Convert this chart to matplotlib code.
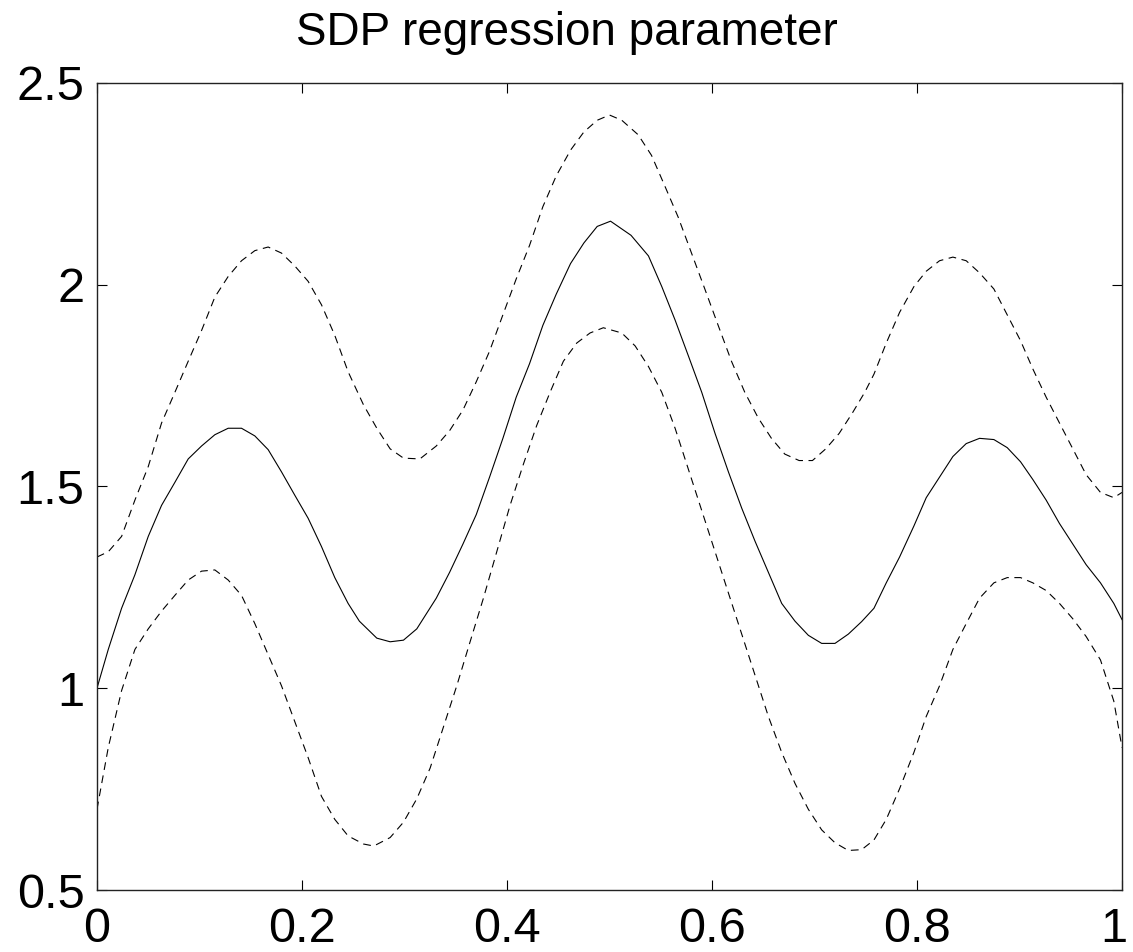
import matplotlib
matplotlib.use("Agg")
import matplotlib.pyplot as plt
import matplotlib.transforms as mtransforms

# Estimated SDP parameter (solid line)
est_x = [0.000, 0.011, 0.024, 0.037, 0.050, 0.063, 0.076, 0.089, 0.102, 0.115,
         0.128, 0.141, 0.154, 0.167, 0.180, 0.193, 0.206, 0.219, 0.232, 0.245,
         0.256, 0.273, 0.286, 0.299, 0.312, 0.331, 0.344, 0.357, 0.370, 0.383,
         0.396, 0.409, 0.422, 0.435, 0.448, 0.462, 0.475, 0.488, 0.501, 0.521,
         0.538, 0.551, 0.564, 0.577, 0.590, 0.603, 0.616, 0.629, 0.642, 0.655,
         0.668, 0.681, 0.694, 0.707, 0.720, 0.733, 0.746, 0.758, 0.770, 0.783,
         0.797, 0.809, 0.822, 0.835, 0.848, 0.861, 0.875, 0.888, 0.901, 0.913,
         0.926, 0.939, 0.952, 0.965, 0.979, 0.992, 1.000]
est_y = [1.000, 1.096, 1.198, 1.281, 1.376, 1.453, 1.510, 1.568, 1.600, 1.628,
         1.644, 1.644, 1.625, 1.591, 1.536, 1.478, 1.421, 1.351, 1.274, 1.210,
         1.166, 1.124, 1.115, 1.119, 1.147, 1.223, 1.287, 1.357, 1.430, 1.523,
         1.619, 1.721, 1.804, 1.899, 1.976, 2.052, 2.103, 2.144, 2.157, 2.122,
         2.071, 1.995, 1.912, 1.823, 1.733, 1.631, 1.536, 1.446, 1.364, 1.287,
         1.210, 1.166, 1.131, 1.111, 1.111, 1.134, 1.165, 1.198, 1.261, 1.325,
         1.402, 1.472, 1.523, 1.574, 1.606, 1.619, 1.616, 1.596, 1.561, 1.517,
         1.466, 1.408, 1.357, 1.306, 1.261, 1.210, 1.170]

# Upper confidence band (dashed)
up_x = [0.000, 0.011, 0.024, 0.037, 0.050, 0.063, 0.076, 0.089, 0.102, 0.115,
        0.128, 0.141, 0.154, 0.167, 0.180, 0.193, 0.206, 0.219, 0.232, 0.245,
        0.260, 0.273, 0.286, 0.299, 0.315, 0.331, 0.344, 0.357, 0.370, 0.383,
        0.396, 0.409, 0.422, 0.435, 0.448, 0.462, 0.475, 0.488, 0.500, 0.512,
        0.528, 0.541, 0.554, 0.567, 0.580, 0.593, 0.606, 0.619, 0.632, 0.645,
        0.658, 0.671, 0.685, 0.698, 0.711, 0.724, 0.737, 0.749, 0.758, 0.770,
        0.783, 0.797, 0.809, 0.822, 0.835, 0.848, 0.861, 0.875, 0.888, 0.901,
        0.913, 0.926, 0.939, 0.952, 0.965, 0.979, 0.992, 1.000]
up_y = [1.325, 1.338, 1.376, 1.466, 1.549, 1.657, 1.733, 1.810, 1.886, 1.969,
        2.020, 2.059, 2.084, 2.093, 2.078, 2.046, 2.008, 1.950, 1.874, 1.784,
        1.702, 1.644, 1.593, 1.570, 1.568, 1.600, 1.638, 1.689, 1.759, 1.835,
        1.925, 2.014, 2.097, 2.193, 2.269, 2.333, 2.378, 2.407, 2.420, 2.407,
        2.371, 2.320, 2.244, 2.167, 2.078, 1.989, 1.899, 1.810, 1.733, 1.670,
        1.619, 1.580, 1.564, 1.564, 1.593, 1.631, 1.682, 1.733, 1.778, 1.855,
        1.931, 1.995, 2.033, 2.059, 2.068, 2.059, 2.029, 1.989, 1.925, 1.861,
        1.791, 1.721, 1.657, 1.593, 1.529, 1.485, 1.472, 1.485]

# Lower confidence band (dashed)
lo_x = [0.000, 0.011, 0.024, 0.037, 0.050, 0.063, 0.076, 0.089, 0.102, 0.115,
        0.128, 0.141, 0.154, 0.167, 0.180, 0.193, 0.206, 0.219, 0.232, 0.245,
        0.260, 0.270, 0.286, 0.299, 0.312, 0.325, 0.338, 0.351, 0.364, 0.377,
        0.390, 0.403, 0.416, 0.429, 0.442, 0.455, 0.468, 0.481, 0.494, 0.512,
        0.525, 0.538, 0.551, 0.564, 0.577, 0.590, 0.603, 0.616, 0.629, 0.642,
        0.655, 0.668, 0.681, 0.694, 0.707, 0.720, 0.733, 0.746, 0.758, 0.770,
        0.783, 0.797, 0.809, 0.822, 0.835, 0.848, 0.861, 0.875, 0.888, 0.901,
        0.913, 0.926, 0.939, 0.952, 0.965, 0.979, 0.992, 1.000]
lo_y = [0.700, 0.853, 0.994, 1.096, 1.147, 1.191, 1.230, 1.268, 1.290, 1.293,
        1.268, 1.230, 1.160, 1.083, 1.006, 0.917, 0.828, 0.732, 0.675, 0.634,
        0.614, 0.609, 0.630, 0.668, 0.726, 0.802, 0.904, 1.006, 1.115, 1.223,
        1.338, 1.453, 1.555, 1.651, 1.733, 1.810, 1.855, 1.880, 1.893, 1.880,
        1.848, 1.797, 1.733, 1.644, 1.542, 1.440, 1.338, 1.236, 1.134, 1.032,
        0.930, 0.841, 0.764, 0.700, 0.649, 0.617, 0.598, 0.600, 0.624, 0.675,
        0.751, 0.841, 0.930, 1.006, 1.096, 1.160, 1.223, 1.261, 1.274, 1.274,
        1.261, 1.242, 1.210, 1.172, 1.128, 1.070, 0.968, 0.853]

xticks = [0, 0.2, 0.4, 0.6, 0.8, 1]
xticklabels = ["0", "0.2", "0.4", "0.6", "0.8", "1"]
yticks = [0.5, 1, 1.5, 2, 2.5]
yticklabels = ["0.5", "1", "1.5", "2", "2.5"]

plt.rcParams["font.family"] = ["Liberation Sans", "DejaVu Sans"]

fig = plt.figure(figsize=(11.33, 9.52), dpi=100)
ax = fig.add_axes([0.0856, 0.0651, 0.9047, 0.848])

dash = (0, (7, 5))
ax.plot(est_x, est_y, color="black", linewidth=0.8, linestyle="-")
ax.plot(up_x, up_y, color="black", linewidth=0.8, linestyle=dash)
ax.plot(lo_x, lo_y, color="black", linewidth=0.8, linestyle=dash)

ax.set_xlim(0, 1)
ax.set_ylim(0.5, 2.5)
ax.set_xticks(xticks)
ax.set_xticklabels(xticklabels)
ax.set_yticks(yticks)
ax.set_yticklabels(yticklabels)

ax.tick_params(direction="in", length=7, width=0.8, top=True, right=True,
               labelsize=35, colors="black")
ax.tick_params(axis="x", pad=12)
ax.tick_params(axis="y", pad=9)
for side in ax.spines.values():
    side.set_linewidth(1.0)
    side.set_color("#222222")

# keep the last x label inside the canvas
last = ax.get_xticklabels()[-1]
last.set_transform(last.get_transform() +
                   mtransforms.ScaledTranslation(-6 / 72, 0, fig.dpi_scale_trans))

# title centred on the figure rather than on the axes
ax.set_title("SDP regression parameter", fontsize=33, pad=27, x=0.4585)

fig.savefig("out.png", dpi=100)
